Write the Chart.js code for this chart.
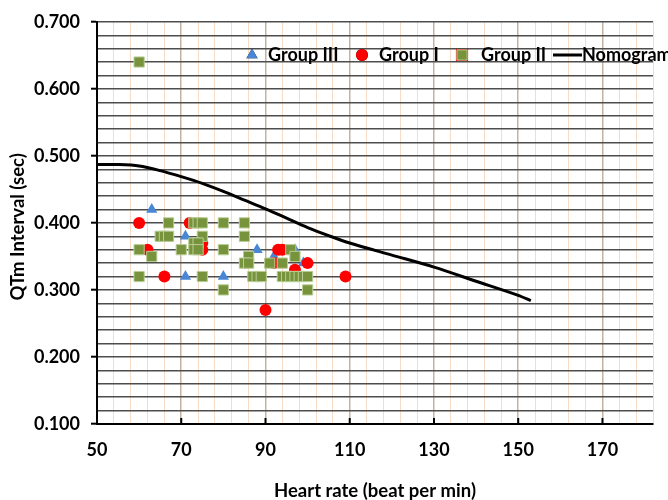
<!DOCTYPE html>
<html>
<head>
<meta charset="utf-8">
<script src="https://cdn.jsdelivr.net/npm/chart.js@4.4.0/dist/chart.umd.min.js"></script>
<style>
    html, body { margin: 0; padding: 0; background: #fff; }
    #wrap { width: 668px; height: 500px; }
</style>
</head>
<body>
<div id="wrap"><canvas id="qt-chart" width="668" height="500"></canvas></div>
<script>
const xTickLabels = [50, 70, 90, 110, 130, 150, 170];
const yTickLabels = [0.1, 0.2, 0.3, 0.4, 0.5, 0.6, 0.7];

const hrGroup3 = [63, 71, 71, 80, 88, 92, 97, 99];
const qtGroup3 = [0.42, 0.38, 0.32, 0.32, 0.36, 0.35, 0.36, 0.34];

const hrGroup1 = [60, 72, 74, 75, 62, 75, 66, 93, 94, 92, 97, 100, 90, 109];
const qtGroup1 = [0.40, 0.40, 0.37, 0.37, 0.36, 0.36, 0.32, 0.36, 0.36, 0.34, 0.33, 0.34, 0.27, 0.32];

const hrGroup2 = [60, 67, 73, 74, 75, 80, 85, 65, 66, 67, 75, 85, 73, 74, 60, 70, 73, 74, 80, 63, 86,
    96, 97, 85, 86, 91, 94, 60, 75, 87, 88, 89, 94, 95, 96, 97, 98, 99, 100, 80, 100];
const qtGroup2 = [0.64, 0.40, 0.40, 0.40, 0.40, 0.40, 0.40, 0.38, 0.38, 0.38, 0.38, 0.38, 0.37, 0.37,
    0.36, 0.36, 0.36, 0.36, 0.36, 0.35, 0.35, 0.36, 0.35, 0.34, 0.34, 0.34, 0.34,
    0.32, 0.32, 0.32, 0.32, 0.32, 0.32, 0.32, 0.32, 0.32, 0.32, 0.32, 0.32, 0.30, 0.30];

const hrNomogram = [50, 55, 60, 65, 70, 75, 80, 85, 90, 95, 100, 105, 110, 120, 130, 140, 150, 153];
const qtNomogram = [0.487, 0.487, 0.485, 0.478, 0.469, 0.459, 0.447, 0.434, 0.421, 0.407, 0.393, 0.381,
    0.370, 0.352, 0.334, 0.313, 0.292, 0.284];

const FONT = 'Lato, "Open Sans", sans-serif';

function toPoints(xs, ys) {
    return xs.map((x, i) => ({ x: x, y: ys[i] }));
}

function isMajorY(v) {
    return yTickLabels.some((t) => Math.abs(t - v) < 1e-6);
}

function isMajorX(v) {
    return xTickLabels.includes(Math.round(v));
}

// legend, axis titles and the inner x ticks
const decorPlugin = {
    id: 'decor',
    afterDraw(chart) {
        const ctx = chart.ctx;
        const area = chart.chartArea;
        const xScale = chart.scales.x;
        ctx.save();

        ctx.strokeStyle = '#000';
        ctx.lineWidth = 2;
        xTickLabels.forEach((v) => {
            const px = xScale.getPixelForValue(v);
            ctx.beginPath();
            ctx.moveTo(px, area.bottom);
            ctx.lineTo(px, area.bottom - 6);
            ctx.stroke();
        });

        ctx.fillStyle = '#000';
        ctx.font = 'bold 18.5px ' + FONT;
        ctx.textAlign = 'center';
        ctx.textBaseline = 'middle';
        ctx.fillText('Heart rate (beat per min)', (area.left + area.right) / 2, 491);
        ctx.save();
        ctx.translate(18, (area.top + area.bottom) / 2 + 4);
        ctx.rotate(-Math.PI / 2);
        ctx.fillText('QTm Interval (sec)', 0, 0);
        ctx.restore();

        // legend
        const ly = 55;
        ctx.font = 'bold 18px ' + FONT;
        ctx.textAlign = 'left';
        const ds = chart.data.datasets;
        const items = [
            { ds: ds[1], mx: 252, tx: 268 },
            { ds: ds[2], mx: 362, tx: 379 },
            { ds: ds[3], mx: 462, tx: 481 },
        ];
        items.forEach((it) => {
            Chart.helpers.drawPoint(ctx, {
                pointStyle: it.ds.pointStyle,
                radius: it.ds.pointRadius,
                borderWidth: it.ds.borderWidth,
                rotation: 0
            }, it.mx, ly);
            ctx.fillStyle = it.ds.backgroundColor;
            ctx.strokeStyle = it.ds.borderColor;
            ctx.lineWidth = it.ds.borderWidth;
            ctx.fill();
            if (it.ds.borderWidth) ctx.stroke();
            ctx.fillStyle = '#000';
            ctx.fillText(it.ds.label, it.tx, ly);
        });
        ctx.strokeStyle = ds[0].borderColor;
        ctx.lineWidth = ds[0].borderWidth;
        ctx.beginPath();
        ctx.moveTo(553, ly);
        ctx.lineTo(582, ly);
        ctx.stroke();
        ctx.fillStyle = '#000';
        ctx.fillText(ds[0].label, 582, ly);

        ctx.restore();
    }
};

const chart = new Chart(document.getElementById('qt-chart'), {
    type: 'scatter',
    data: {
        datasets: [
            {
                label: 'Nomogram',
                data: toPoints(hrNomogram, qtNomogram),
                showLine: true,
                borderColor: '#000000',
                borderWidth: 3,
                pointRadius: 0,
                tension: 0.3,
                order: 0
            },
            {
                label: 'Group III',
                data: toPoints(hrGroup3, qtGroup3),
                pointStyle: 'triangle',
                pointRadius: 6.5,
                backgroundColor: '#4a86d6',
                borderColor: '#4a86d6',
                borderWidth: 0,
                order: 3
            },
            {
                label: 'Group I',
                data: toPoints(hrGroup1, qtGroup1),
                pointStyle: 'circle',
                pointRadius: 6,
                backgroundColor: '#ff0000',
                borderColor: '#ff0000',
                borderWidth: 0,
                order: 2
            },
            {
                label: 'Group II',
                data: toPoints(hrGroup2, qtGroup2),
                pointStyle: 'rect',
                pointRadius: 7.2,
                backgroundColor: '#77933c',
                borderColor: '#b9cd95',
                borderWidth: 1,
                order: 1
            }
        ]
    },
    options: {
        responsive: false,
        animation: false,
        layout: { autoPadding: false, padding: { top: 20, right: 0, bottom: 0, left: 0 } },
        plugins: {
            legend: { display: false },
            tooltip: { enabled: false }
        },
        scales: {
            x: {
                type: 'linear',
                min: 50,
                max: 182,
                afterFit: (scale) => { scale.height = 76; },
                afterBuildTicks: (scale) => {
                    const ticks = [];
                    for (let v = 50; v <= 182; v += 4) ticks.push({ value: v });
                    scale.ticks = ticks;
                },
                ticks: {
                    autoSkip: false,
                    maxRotation: 0,
                    padding: 15,
                    color: '#000',
                    font: { family: FONT, size: 18, weight: 'bold' },
                    callback: (v) => (isMajorX(v) ? String(v) : '')
                },
                grid: {
                    drawTicks: false,
                    lineWidth: (ctx) => (ctx.tick && isMajorX(ctx.tick.value) ? 1.5 : 1),
                    color: (ctx) => (ctx.tick && isMajorX(ctx.tick.value) ? '#c4b3a2' : '#f6dcc6')
                },
                border: { color: '#000', width: 2 }
            },
            y: {
                type: 'linear',
                min: 0.1,
                max: 0.7,
                afterFit: (scale) => { scale.width = 97; },
                afterBuildTicks: (scale) => {
                    const ticks = [];
                    for (let i = 0; i <= 30; i += 1) ticks.push({ value: Math.round((0.1 + i * 0.02) * 1000) / 1000 });
                    scale.ticks = ticks;
                },
                ticks: {
                    autoSkip: false,
                    padding: 11,
                    color: '#000',
                    font: { family: FONT, size: 18, weight: 'bold' },
                    callback: (v) => (isMajorY(v) ? Number(v).toFixed(3) : '')
                },
                grid: {
                    lineWidth: 1.4,
                    tickLength: 6,
                    color: '#4d4d4d',
                    tickColor: (ctx) => (ctx.tick && isMajorY(ctx.tick.value) ? '#000' : 'rgba(0,0,0,0)'),
                    tickWidth: 2
                },
                border: { color: '#000', width: 2 }
            }
        }
    },
    plugins: [decorPlugin]
});
</script>
</body>
</html>
